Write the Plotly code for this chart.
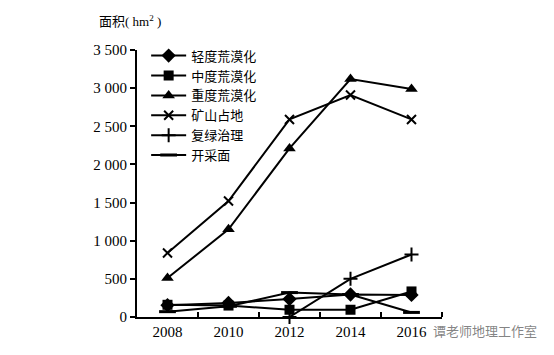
import plotly.graph_objects as go

years = [2008, 2010, 2012, 2014, 2016]
light = [155, 185, 235, 295, 290]        # 轻度荒漠化
moderate = [160, 150, 95, 95, 335]       # 中度荒漠化
severe = [510, 1150, 2210, 3120, 2990]   # 重度荒漠化
mine = [840, 1520, 2590, 2910, 2590]     # 矿山占地
regreen = [None, None, 0, 500, 820]      # 复绿治理
mining_face = [70, 140, 320, 295, 60]    # 开采面

series = [
    ("轻度荒漠化", light, "diamond", 11, 0),
    ("中度荒漠化", moderate, "square", 10, 0),
    ("重度荒漠化", severe, "triangle-up", 11, 0),
    ("矿山占地", mine, "x-thin-open", 9, 2),
    ("复绿治理", regreen, "cross-thin-open", 10, 2),
    ("开采面", mining_face, "line-ew-open", 12, 3),
]

ytick_vals = [0, 500, 1000, 1500, 2000, 2500, 3000, 3500]
ytick_text = ["0", "500", "1 000", "1 500", "2 000", "2 500", "3 000", "3 500"]
xtick_vals = [2008, 2010, 2012, 2014, 2016]
xtick_text = ["2008", "2010", "2012", "2014", "2016"]

FONT = "Liberation Serif, Noto Sans CJK SC"

fig = go.Figure()
for name, vals, sym, size, lw in series:
    fig.add_trace(go.Scatter(
        x=years, y=vals, name=name, mode="lines+markers",
        line=dict(color="black", width=2),
        marker=dict(symbol=sym, size=size, color="black",
                    line=dict(color="black", width=lw)),
        connectgaps=False, cliponaxis=False,
    ))

fig.update_layout(
    width=554, height=355,
    margin=dict(l=137, r=112, t=50, b=38),
    paper_bgcolor="white", plot_bgcolor="white",
    font=dict(family=FONT, color="black", size=13),
    showlegend=True,
    legend=dict(x=0.03, y=1.035, xanchor="left", yanchor="top",
                font=dict(family="Noto Sans CJK SC", size=13, color="black"),
                bgcolor="rgba(0,0,0,0)", tracegroupgap=0, itemwidth=35),
    xaxis=dict(range=[2007, 2017], showgrid=False, zeroline=False,
               showline=True, linecolor="black", linewidth=2,
               tickvals=xtick_vals, ticktext=xtick_text, ticks="",
               tickfont=dict(family=FONT, size=15, color="black"),
               minor=dict(tickvals=[2009, 2011, 2013, 2015, 2017],
                          ticks="inside", ticklen=5, tickcolor="black", tickwidth=2)),
    yaxis=dict(range=[0, 3500], showgrid=False, zeroline=False,
               showline=True, linecolor="black", linewidth=2,
               tickvals=ytick_vals, ticktext=ytick_text,
               ticks="outside", ticklen=5, tickwidth=2, tickcolor="black",
               tickfont=dict(family=FONT, size=15, color="black")),
)

fig.add_annotation(xref="paper", yref="paper", x=-0.13, y=1.07,
                   xanchor="left", yanchor="bottom", showarrow=False,
                   text="面积( hm<sup>2</sup> )",
                   font=dict(family="Liberation Serif, Noto Sans CJK SC", size=13, color="black"))

fig.add_annotation(xref="paper", yref="paper", x=0.965, y=-0.05,
                   xanchor="left", yanchor="middle", showarrow=False,
                   text="谭老师地理工作室",
                   font=dict(family="Noto Sans CJK SC", size=13, color="rgba(110,110,110,0.85)"))

fig.write_html("out.html")
